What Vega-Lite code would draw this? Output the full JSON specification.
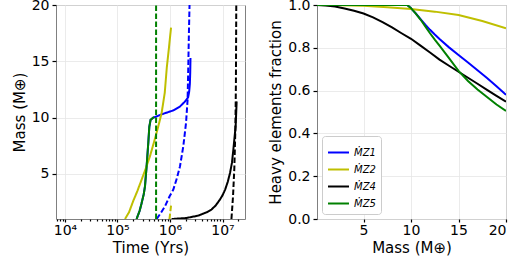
{
  "$schema": "https://vega.github.io/schema/vega-lite/v6.json",
  "padding": {"left": 11, "top": -3, "right": 5, "bottom": 0},
  "config": {
    "font": "DejaVu Sans",
    "view": {"stroke": "#808080", "strokeWidth": 1},
    "axis": {"domain": false, "grid": true, "gridColor": "#e6e6e6", "gridWidth": 0.8, "tickColor": "#000000", "tickSize": 4, "tickWidth": 1.2, "labelFontSize": 14, "labelColor": "#000000", "titleFontSize": 15, "titleFontWeight": "normal", "titleColor": "#000000", "labelPadding": 3, "titlePadding": 4, "labelOverlap": false},
    "axisX": {"labelPadding": 1, "titlePadding": 3, "tickSize": 3}
  },
  "datasets": {
    "time": [
      {"s": "ṀZ1", "style": "solid", "t": 231000, "m": 1.0},
      {"s": "ṀZ1", "style": "solid", "t": 263000, "m": 1.7},
      {"s": "ṀZ1", "style": "solid", "t": 288000, "m": 2.4},
      {"s": "ṀZ1", "style": "solid", "t": 316000, "m": 3.2},
      {"s": "ṀZ1", "style": "solid", "t": 334000, "m": 3.9},
      {"s": "ṀZ1", "style": "solid", "t": 359000, "m": 5.7},
      {"s": "ṀZ1", "style": "solid", "t": 386000, "m": 7.75},
      {"s": "ṀZ1", "style": "solid", "t": 404000, "m": 9.2},
      {"s": "ṀZ1", "style": "solid", "t": 427000, "m": 9.8},
      {"s": "ṀZ1", "style": "solid", "t": 479000, "m": 10.0},
      {"s": "ṀZ1", "style": "solid", "t": 518000, "m": 10.05},
      {"s": "ṀZ1", "style": "solid", "t": 741000, "m": 10.34},
      {"s": "ṀZ1", "style": "solid", "t": 1156000, "m": 10.64},
      {"s": "ṀZ1", "style": "solid", "t": 1549000, "m": 10.99},
      {"s": "ṀZ1", "style": "solid", "t": 1932000, "m": 11.43},
      {"s": "ṀZ1", "style": "solid", "t": 2213000, "m": 11.8},
      {"s": "ṀZ1", "style": "solid", "t": 2317000, "m": 12.3},
      {"s": "ṀZ1", "style": "solid", "t": 2388000, "m": 13.0},
      {"s": "ṀZ1", "style": "solid", "t": 2427000, "m": 14.0},
      {"s": "ṀZ1", "style": "solid", "t": 2455000, "m": 15.3},
      {"s": "ṀZ1", "style": "dashed", "t": 556000, "m": 1.0},
      {"s": "ṀZ1", "style": "dashed", "t": 661000, "m": 1.5},
      {"s": "ṀZ1", "style": "dashed", "t": 803000, "m": 2.13},
      {"s": "ṀZ1", "style": "dashed", "t": 977000, "m": 3.0},
      {"s": "ṀZ1", "style": "dashed", "t": 1156000, "m": 3.61},
      {"s": "ṀZ1", "style": "dashed", "t": 1349000, "m": 4.6},
      {"s": "ṀZ1", "style": "dashed", "t": 1549000, "m": 5.67},
      {"s": "ṀZ1", "style": "dashed", "t": 1791000, "m": 7.45},
      {"s": "ṀZ1", "style": "dashed", "t": 2018000, "m": 9.52},
      {"s": "ṀZ1", "style": "dashed", "t": 2163000, "m": 11.58},
      {"s": "ṀZ1", "style": "dashed", "t": 2239000, "m": 15.0},
      {"s": "ṀZ1", "style": "dashed", "t": 2291000, "m": 17.5},
      {"s": "ṀZ1", "style": "dashed", "t": 2355000, "m": 20.0},
      {"s": "ṀZ2", "style": "solid", "t": 139000, "m": 1.0},
      {"s": "ṀZ2", "style": "solid", "t": 166000, "m": 1.6},
      {"s": "ṀZ2", "style": "solid", "t": 199500, "m": 2.6},
      {"s": "ṀZ2", "style": "solid", "t": 239900, "m": 3.5},
      {"s": "ṀZ2", "style": "solid", "t": 288400, "m": 4.5},
      {"s": "ṀZ2", "style": "solid", "t": 346700, "m": 5.5},
      {"s": "ṀZ2", "style": "solid", "t": 416900, "m": 6.6},
      {"s": "ṀZ2", "style": "solid", "t": 501200, "m": 7.9},
      {"s": "ṀZ2", "style": "solid", "t": 588800, "m": 9.1},
      {"s": "ṀZ2", "style": "solid", "t": 691800, "m": 10.4},
      {"s": "ṀZ2", "style": "solid", "t": 794300, "m": 12.2},
      {"s": "ṀZ2", "style": "solid", "t": 871000, "m": 14.5},
      {"s": "ṀZ2", "style": "solid", "t": 955000, "m": 16.2},
      {"s": "ṀZ2", "style": "solid", "t": 1047000, "m": 18.0},
      {"s": "ṀZ2", "style": "dashed", "t": 977200, "m": 1.0},
      {"s": "ṀZ2", "style": "dashed", "t": 1012000, "m": 1.6},
      {"s": "ṀZ2", "style": "dashed", "t": 1047000, "m": 2.2},
      {"s": "ṀZ4", "style": "solid", "t": 1072000, "m": 1.0},
      {"s": "ṀZ4", "style": "solid", "t": 1995000, "m": 1.08},
      {"s": "ṀZ4", "style": "solid", "t": 3467000, "m": 1.3},
      {"s": "ṀZ4", "style": "solid", "t": 5012000, "m": 1.6},
      {"s": "ṀZ4", "style": "solid", "t": 6166000, "m": 1.84},
      {"s": "ṀZ4", "style": "solid", "t": 7413000, "m": 2.2},
      {"s": "ṀZ4", "style": "solid", "t": 8913000, "m": 2.72},
      {"s": "ṀZ4", "style": "solid", "t": 10000000, "m": 3.1},
      {"s": "ṀZ4", "style": "solid", "t": 11220000, "m": 3.61},
      {"s": "ṀZ4", "style": "solid", "t": 12590000, "m": 4.3},
      {"s": "ṀZ4", "style": "solid", "t": 13900000, "m": 5.09},
      {"s": "ṀZ4", "style": "solid", "t": 15140000, "m": 6.0},
      {"s": "ṀZ4", "style": "solid", "t": 16070000, "m": 7.15},
      {"s": "ṀZ4", "style": "solid", "t": 16980000, "m": 8.3},
      {"s": "ṀZ4", "style": "solid", "t": 17780000, "m": 9.22},
      {"s": "ṀZ4", "style": "solid", "t": 18580000, "m": 11.43},
      {"s": "ṀZ4", "style": "dashed", "t": 14790000, "m": 1.0},
      {"s": "ṀZ4", "style": "dashed", "t": 15850000, "m": 3.0},
      {"s": "ṀZ4", "style": "dashed", "t": 16790000, "m": 5.5},
      {"s": "ṀZ4", "style": "dashed", "t": 17580000, "m": 9.0},
      {"s": "ṀZ4", "style": "dashed", "t": 17990000, "m": 13.0},
      {"s": "ṀZ4", "style": "dashed", "t": 18280000, "m": 20.0},
      {"s": "ṀZ5", "style": "solid", "t": 231000, "m": 1.0},
      {"s": "ṀZ5", "style": "solid", "t": 263000, "m": 1.7},
      {"s": "ṀZ5", "style": "solid", "t": 288000, "m": 2.4},
      {"s": "ṀZ5", "style": "solid", "t": 316000, "m": 3.2},
      {"s": "ṀZ5", "style": "solid", "t": 334000, "m": 3.9},
      {"s": "ṀZ5", "style": "solid", "t": 359000, "m": 5.7},
      {"s": "ṀZ5", "style": "solid", "t": 386000, "m": 7.75},
      {"s": "ṀZ5", "style": "solid", "t": 404000, "m": 9.2},
      {"s": "ṀZ5", "style": "solid", "t": 427000, "m": 9.8},
      {"s": "ṀZ5", "style": "solid", "t": 479000, "m": 10.0},
      {"s": "ṀZ5", "style": "solid", "t": 500000, "m": 10.03},
      {"s": "ṀZ5", "style": "dashed", "t": 543300, "m": 1.0},
      {"s": "ṀZ5", "style": "dashed", "t": 543300, "m": 20.0}
    ],
    "frac": [
      {"s": "ṀZ1", "x": 0.1, "f": 1.0},
      {"s": "ṀZ1", "x": 9.6, "f": 1.0},
      {"s": "ṀZ1", "x": 10, "f": 0.985},
      {"s": "ṀZ1", "x": 10.5, "f": 0.961},
      {"s": "ṀZ1", "x": 11, "f": 0.934},
      {"s": "ṀZ1", "x": 11.5, "f": 0.908},
      {"s": "ṀZ1", "x": 12, "f": 0.884},
      {"s": "ṀZ1", "x": 12.5, "f": 0.862},
      {"s": "ṀZ1", "x": 13, "f": 0.841},
      {"s": "ṀZ1", "x": 14, "f": 0.802},
      {"s": "ṀZ1", "x": 15, "f": 0.766},
      {"s": "ṀZ1", "x": 16, "f": 0.731},
      {"s": "ṀZ1", "x": 17, "f": 0.695},
      {"s": "ṀZ1", "x": 18, "f": 0.659},
      {"s": "ṀZ1", "x": 19, "f": 0.62},
      {"s": "ṀZ1", "x": 20, "f": 0.58},
      {"s": "ṀZ2", "x": 0.1, "f": 1.0},
      {"s": "ṀZ2", "x": 2.5, "f": 0.999},
      {"s": "ṀZ2", "x": 5, "f": 0.996},
      {"s": "ṀZ2", "x": 7.5, "f": 0.99},
      {"s": "ṀZ2", "x": 10, "f": 0.981},
      {"s": "ṀZ2", "x": 12.5, "f": 0.969},
      {"s": "ṀZ2", "x": 15, "f": 0.953},
      {"s": "ṀZ2", "x": 17.5, "f": 0.925},
      {"s": "ṀZ2", "x": 20, "f": 0.891},
      {"s": "ṀZ4", "x": 0.1, "f": 1.0},
      {"s": "ṀZ4", "x": 1, "f": 0.998},
      {"s": "ṀZ4", "x": 2, "f": 0.993},
      {"s": "ṀZ4", "x": 3, "f": 0.984},
      {"s": "ṀZ4", "x": 4, "f": 0.973},
      {"s": "ṀZ4", "x": 5, "f": 0.96},
      {"s": "ṀZ4", "x": 6, "f": 0.942},
      {"s": "ṀZ4", "x": 7, "f": 0.92},
      {"s": "ṀZ4", "x": 8, "f": 0.895},
      {"s": "ṀZ4", "x": 9, "f": 0.868},
      {"s": "ṀZ4", "x": 10, "f": 0.842},
      {"s": "ṀZ4", "x": 11, "f": 0.81},
      {"s": "ṀZ4", "x": 12, "f": 0.778},
      {"s": "ṀZ4", "x": 13, "f": 0.745},
      {"s": "ṀZ4", "x": 14, "f": 0.716},
      {"s": "ṀZ4", "x": 15, "f": 0.688},
      {"s": "ṀZ4", "x": 16, "f": 0.66},
      {"s": "ṀZ4", "x": 17, "f": 0.632},
      {"s": "ṀZ4", "x": 18, "f": 0.603},
      {"s": "ṀZ4", "x": 19, "f": 0.575},
      {"s": "ṀZ4", "x": 20, "f": 0.548},
      {"s": "ṀZ5", "x": 0.1, "f": 1.0},
      {"s": "ṀZ5", "x": 9.6, "f": 1.0},
      {"s": "ṀZ5", "x": 10, "f": 0.985},
      {"s": "ṀZ5", "x": 10.5, "f": 0.96},
      {"s": "ṀZ5", "x": 11, "f": 0.932},
      {"s": "ṀZ5", "x": 11.5, "f": 0.9},
      {"s": "ṀZ5", "x": 12, "f": 0.868},
      {"s": "ṀZ5", "x": 12.5, "f": 0.838},
      {"s": "ṀZ5", "x": 13, "f": 0.81},
      {"s": "ṀZ5", "x": 14, "f": 0.752},
      {"s": "ṀZ5", "x": 15, "f": 0.692},
      {"s": "ṀZ5", "x": 16, "f": 0.645},
      {"s": "ṀZ5", "x": 17, "f": 0.605},
      {"s": "ṀZ5", "x": 18, "f": 0.57},
      {"s": "ṀZ5", "x": 19, "f": 0.535},
      {"s": "ṀZ5", "x": 20, "f": 0.505}
    ]
  },
  "spacing": 22,
  "resolve": {"scale": {"color": "independent", "strokeDash": "independent"}, "legend": {"color": "independent"}},
  "hconcat": [
    {
      "width": 189,
      "height": 214,
      "data": {"name": "time"},
      "mark": {"type": "line", "strokeWidth": 2, "clip": true},
      "encoding": {
        "x": {
          "field": "t", "type": "quantitative",
          "scale": {"type": "log", "domain": [6750, 26800000], "nice": false},
          "axis": {
            "title": "Time (Yrs)",
            "values": [7000, 8000, 9000, 10000, 20000, 30000, 40000, 50000, 60000, 70000, 80000, 90000, 100000, 200000, 300000, 400000, 500000, 600000, 700000, 800000, 900000, 1000000, 2000000, 3000000, 4000000, 5000000, 6000000, 7000000, 8000000, 9000000, 10000000, 20000000],
            "labelExpr": "datum.value == 10000 ? '10⁴' : datum.value == 100000 ? '10⁵' : datum.value == 1000000 ? '10⁶' : datum.value == 10000000 ? '10⁷' : ''",
            "tickSize": {"condition": {"test": "datum.value == 10000 || datum.value == 100000 || datum.value == 1000000 || datum.value == 10000000", "value": 3}, "value": 2},
            "gridOpacity": {"condition": {"test": "datum.value == 10000 || datum.value == 100000 || datum.value == 1000000 || datum.value == 10000000", "value": 1}, "value": 0}
          }
        },
        "y": {
          "field": "m", "type": "quantitative",
          "scale": {"domain": [1, 20], "nice": false, "zero": false},
          "axis": {"title": "Mass (M⊕)", "values": [5, 10, 15, 20]}
        },
        "color": {"field": "s", "type": "nominal", "scale": {"domain": ["ṀZ1", "ṀZ2", "ṀZ4", "ṀZ5"], "range": ["#0000ff", "#bfbf00", "#000000", "#008000"]}, "legend": null},
        "strokeDash": {"field": "style", "type": "nominal", "scale": {"domain": ["solid", "dashed"], "range": [[1, 0], [5.5, 2.5]]}, "legend": null}
      }
    },
    {
      "width": 189,
      "height": 214,
      "data": {"name": "frac"},
      "mark": {"type": "line", "strokeWidth": 2, "clip": true},
      "encoding": {
        "x": {
          "field": "x", "type": "quantitative",
          "scale": {"domain": [0.1, 20], "nice": false, "zero": false},
          "axis": {"title": "Mass (M⊕)", "values": [5, 10, 15, 20]}
        },
        "y": {
          "field": "f", "type": "quantitative",
          "scale": {"domain": [0, 1], "nice": false},
          "axis": {"title": "Heavy elements fraction", "values": [0, 0.2, 0.4, 0.6, 0.8, 1.0], "format": ".1f"}
        },
        "color": {
          "field": "s", "type": "nominal",
          "scale": {"domain": ["ṀZ1", "ṀZ2", "ṀZ4", "ṀZ5"], "range": ["#0000ff", "#bfbf00", "#000000", "#008000"]},
          "legend": {"title": null, "orient": "bottom-left", "offset": 5, "symbolType": "stroke", "symbolStrokeWidth": 2, "symbolSize": 440, "labelFontSize": 10, "labelFontStyle": "italic", "rowPadding": 0, "padding": 5, "strokeColor": "#cccccc", "fillColor": "#ffffff", "cornerRadius": 3}
        }
      }
    }
  ]
}
